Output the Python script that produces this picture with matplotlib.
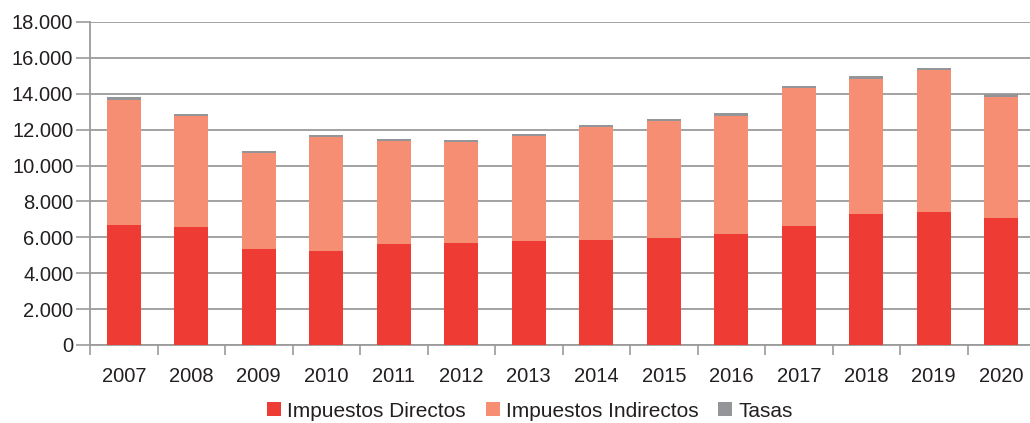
import matplotlib.pyplot as plt
import numpy as np
from matplotlib.ticker import FuncFormatter, MultipleLocator

plt.rcParams['font.family'] = ['Liberation Sans', 'DejaVu Sans']

anios = ['2007', '2008', '2009', '2010', '2011', '2012', '2013',
         '2014', '2015', '2016', '2017', '2018', '2019', '2020']
directos = [6690, 6570, 5350, 5240, 5630, 5680, 5790,
            5830, 5940, 6170, 6610, 7280, 7390, 7060]
indirectos = [6940, 6170, 5330, 6330, 5720, 5610, 5840,
              6330, 6560, 6600, 7720, 7530, 7920, 6770]
tasas = [165, 110, 110, 110, 110, 110, 110,
         110, 110, 165, 110, 165, 110, 150]

c_dir = '#ee3b33'
c_ind = '#f58e73'
c_tas = '#939598'
c_eje = '#9b9b9b'
c_txt = '#231f20'

fig = plt.figure(figsize=(10.3, 4.23), dpi=100)
ax = fig.add_axes([0.0874, 0.1844, 0.9175, 0.7636])

x = np.arange(len(anios))
d = np.array(directos)
i = np.array(indirectos)
t = np.array(tasas)
ax.bar(x, d, width=0.5, color=c_dir, label='Impuestos Directos', zorder=3)
ax.bar(x, i, width=0.5, bottom=d, color=c_ind, label='Impuestos Indirectos', zorder=3)
ax.bar(x, t, width=0.5, bottom=d + i, color=c_tas, label='Tasas', zorder=3)

ax.set_xlim(-0.5, len(anios) - 0.5)
ax.set_ylim(0, 18000)
ax.yaxis.set_major_locator(MultipleLocator(2000))
ax.yaxis.set_major_formatter(FuncFormatter(lambda v, p: f'{int(v):,}'.replace(',', '.')))
ax.grid(axis='y', color=c_eje, linewidth=1.3, zorder=0)

# etiquetas centradas, marcas en los limites de cada año
ax.set_xticks(x)
ax.set_xticklabels(anios)
ax.set_xticks(np.arange(-0.5, len(anios), 1), minor=True)
ax.tick_params(axis='x', which='major', length=0, pad=16, labelsize=14.5, colors=c_txt)
ax.tick_params(axis='x', which='minor', length=7, width=1.2, color=c_eje, direction='out')
ax.tick_params(axis='y', length=10, width=1.2, color=c_eje, pad=2, labelsize=14.5, labelcolor=c_txt)

for s in ['top', 'right']:
    ax.spines[s].set_visible(False)
for s in ['left', 'bottom']:
    ax.spines[s].set_color(c_eje)
    ax.spines[s].set_linewidth(1.3)

fig.legend(loc='center', bbox_to_anchor=(0.5146, 0.028), ncol=3, frameon=False,
           fontsize=15, handlelength=0.67, handleheight=0.67, handletextpad=0.3,
           columnspacing=0.95, labelcolor=c_txt, borderaxespad=0, borderpad=0)

fig.savefig('out.png', dpi=100)
